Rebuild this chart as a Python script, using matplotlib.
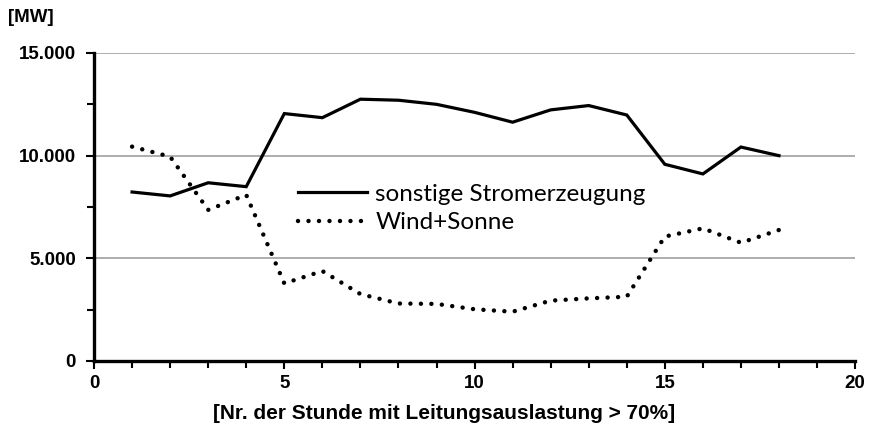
import matplotlib
matplotlib.use("Agg")
import matplotlib.pyplot as plt
from matplotlib.ticker import MultipleLocator, FuncFormatter

hours = [1, 2, 3, 4, 5, 6, 7, 8, 9, 10, 11, 12, 13, 14, 15, 16, 17, 18]
sonstige = [8230, 8040, 8680, 8490, 12050, 11850, 12750, 12700, 12500, 12110,
            11630, 12230, 12440, 11980, 9580, 9110, 10420, 10000]
wind_sonne = [10440, 9950, 7360, 8090, 3780, 4380, 3260, 2800, 2780, 2520,
              2400, 2940, 3050, 3130, 6060, 6460, 5760, 6380]
labels = ["sonstige Stromerzeugung", "Wind+Sonne"]

fig = plt.figure(figsize=(8.69, 4.25), dpi=100)
ax = fig.add_axes([0.1082, 0.1506, 0.8758, 0.7247])

l1, = ax.plot(hours, sonstige, color="black", lw=2.3, solid_joinstyle="miter",
              label=labels[0])
l2, = ax.plot(hours, wind_sonne, color="black", lw=3.2, linestyle=(0, (0.01, 2.35)),
              dash_capstyle="round", label=labels[1])

ax.set_xlim(0, 20)
ax.set_ylim(0, 15000)
ax.xaxis.set_major_locator(MultipleLocator(5))
ax.xaxis.set_minor_locator(MultipleLocator(1))
ax.yaxis.set_major_locator(MultipleLocator(5000))
ax.yaxis.set_minor_locator(MultipleLocator(2500))
ax.yaxis.set_major_formatter(FuncFormatter(lambda v, p: f"{int(v):,}".replace(",", ".")))

for s in ["top", "right"]:
    ax.spines[s].set_visible(False)
for s in ["left", "bottom"]:
    ax.spines[s].set_linewidth(2.4)
    ax.spines[s].set_color("black")

ax.grid(axis="y", which="major", color="#a0a0a0", lw=1.2)
ax.set_axisbelow(True)
ax.tick_params(axis="both", which="major", length=6, width=1.5, direction="out",
               labelsize=13.5)
ax.tick_params(axis="both", which="minor", length=5, width=1.5, direction="out")
ax.tick_params(axis="y", which="major", pad=7)
ax.tick_params(axis="x", which="major", pad=4)
for t in ax.get_xticklabels() + ax.get_yticklabels():
    t.set_fontfamily("Liberation Sans")
    t.set_fontweight("bold")

ax.set_xlabel("[Nr. der Stunde mit Leitungsauslastung > 70%]", fontfamily="Liberation Sans",
              fontweight="bold", fontsize=15)
ax.xaxis.set_label_coords(0.46, -0.14)
fig.text(0.009, 0.958, "[MW]", fontfamily="Liberation Sans", fontweight="bold",
         fontsize=13.5, ha="left", va="center")

leg = ax.legend(handles=[l1, l2], loc="center left", bbox_to_anchor=(0.268, 0.495),
                frameon=False, prop={"family": "Lato", "size": 17.5},
                handlelength=2.85, handletextpad=0.33, labelspacing=0.32,
                borderpad=0, borderaxespad=0)

fig.savefig("out.png", dpi=100)
